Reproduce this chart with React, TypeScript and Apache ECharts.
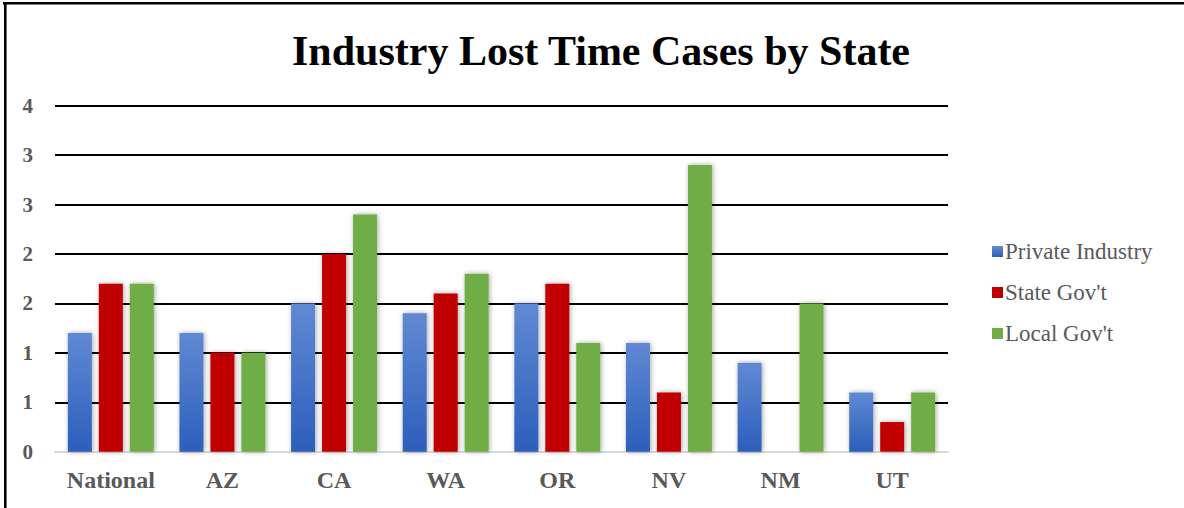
import React, { useEffect, useRef } from "react";
import * as echarts from "echarts";

const categories = ["National", "AZ", "CA", "WA", "OR", "NV", "NM", "UT"];
const privateIndustry = [1.2, 1.2, 1.5, 1.4, 1.5, 1.1, 0.9, 0.6];
const stateGov = [1.7, 1.0, 2.0, 1.6, 1.7, 0.6, 0, 0.3];
const localGov = [1.7, 1.0, 2.4, 1.8, 1.1, 2.9, 1.5, 0.6];
const seriesNames = ["Private Industry", "State Gov't", "Local Gov't"];
const yMax = 3.5;
const yInterval = 0.5;

const FONT = "'Liberation Serif', 'Times New Roman', serif";

export default function App() {
  const ref = useRef<HTMLDivElement>(null);
  useEffect(() => {
    if (!ref.current) return;
    const chart = echarts.init(ref.current, undefined, { renderer: "svg" });
    const shadow = {
      shadowBlur: 5,
      shadowColor: "rgba(0,0,0,0.35)",
      shadowOffsetX: 1,
      shadowOffsetY: 0,
    };
    const blueGrad = new echarts.graphic.LinearGradient(0, 0, 0, 1, [
      { offset: 0, color: "#6189d3" },
      { offset: 1, color: "#2c5ebb" },
    ]);
    chart.setOption({
      animation: false,
      backgroundColor: "#ffffff",
      textStyle: { fontFamily: FONT },
      title: {
        text: "Industry Lost Time Cases by State",
        left: 596,
        textAlign: "center",
        top: 25,
        textStyle: {
          fontFamily: FONT,
          fontSize: 42,
          fontWeight: "bold",
          color: "#000000",
        },
      },
      legend: {
        orient: "vertical",
        left: 987,
        top: 235,
        itemWidth: 11,
        itemHeight: 11,
        itemGap: 18,
        icon: "rect",
        textStyle: {
          fontFamily: FONT,
          fontSize: 23,
          color: "#595959",
          padding: [0, 0, 0, -3],
        },
        data: seriesNames,
      },
      grid: {
        left: 55,
        right: 236,
        top: 105.7,
        bottom: 56.3,
        containLabel: false,
      },
      xAxis: {
        type: "category",
        data: categories,
        axisTick: { show: false },
        axisLine: { lineStyle: { color: "#d9d9d9", width: 2 } },
        axisLabel: {
          interval: 0,
          margin: 16,
          fontFamily: FONT,
          fontSize: 24,
          fontWeight: "bold",
          color: "#595959",
        },
      },
      yAxis: {
        type: "value",
        min: 0,
        max: yMax,
        interval: yInterval,
        axisLine: { show: false },
        axisTick: { show: false },
        splitLine: { lineStyle: { color: "#000000", width: 2 } },
        axisLabel: {
          margin: 22,
          fontFamily: FONT,
          fontSize: 21,
          fontWeight: "bold",
          color: "#595959",
          formatter: (v: number) => String(Math.round(v)),
        },
      },
      series: [
        {
          name: seriesNames[0],
          type: "bar",
          data: privateIndustry,
          barGap: "29%",
          barCategoryGap: "23%",
          itemStyle: { color: blueGrad, ...shadow },
        },
        {
          name: seriesNames[1],
          type: "bar",
          data: stateGov,
          barGap: "29%",
          barCategoryGap: "23%",
          itemStyle: { color: "#c00000", ...shadow },
        },
        {
          name: seriesNames[2],
          type: "bar",
          data: localGov,
          barGap: "29%",
          barCategoryGap: "23%",
          itemStyle: { color: "#70ad47", ...shadow },
        },
      ],
      graphic: [
        {
          type: "line",
          shape: { x1: 3, y1: 3.3, x2: 1184, y2: 3.3 },
          style: { stroke: "#000000", lineWidth: 2.6 },
          z: 100,
        },
        {
          type: "line",
          shape: { x1: 5.3, y1: 2, x2: 5.3, y2: 508 },
          style: { stroke: "#000000", lineWidth: 2.6 },
          z: 100,
        },
      ],
    });
    return () => chart.dispose();
  }, []);
  return (
    <div
      ref={ref}
      style={{ position: "absolute", left: 0, top: 0, width: 1184, height: 508 }}
    />
  );
}
